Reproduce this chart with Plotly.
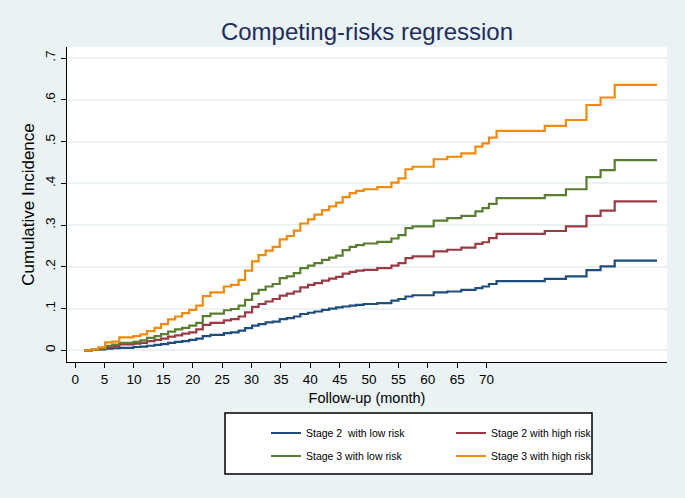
import plotly.graph_objects as go

# Step times (months) shared by the four predicted cumulative incidence curves
months = [1.5, 2.8, 3.9, 5.1, 6.3, 7.5, 9.9, 11.1, 12.2, 13.5, 14.6, 15.8, 17.0, 18.2,
          19.4, 20.6, 21.7, 23.0, 25.3, 26.5, 27.8, 28.9, 30.1, 31.2, 32.4, 33.6, 34.8,
          36.0, 37.2, 38.3, 39.6, 40.7, 42.0, 43.2, 44.4, 45.5, 46.7, 47.8, 49.1, 51.4,
          53.8, 55.0, 56.2, 57.4, 61.0, 63.3, 65.7, 68.1, 69.3, 70.4, 71.7, 79.9, 83.5,
          87.0, 89.4, 91.8, 99.0]

stage2_low = [0, 0.001, 0.002, 0.004, 0.005, 0.006, 0.008, 0.009, 0.011, 0.013, 0.015,
              0.018, 0.020, 0.022, 0.025, 0.028, 0.034, 0.037, 0.041, 0.043, 0.047, 0.053,
              0.059, 0.063, 0.067, 0.069, 0.075, 0.077, 0.081, 0.087, 0.090, 0.093, 0.097,
              0.100, 0.103, 0.105, 0.107, 0.109, 0.111, 0.113, 0.119, 0.123, 0.129, 0.132,
              0.139, 0.141, 0.145, 0.149, 0.153, 0.159, 0.166, 0.171, 0.177, 0.192, 0.201,
              0.215, 0.215]

stage2_high = [0, 0.001, 0.003, 0.007, 0.010, 0.014, 0.016, 0.018, 0.022, 0.025, 0.028,
               0.033, 0.036, 0.040, 0.043, 0.050, 0.061, 0.066, 0.072, 0.075, 0.081, 0.091,
               0.104, 0.111, 0.117, 0.123, 0.131, 0.136, 0.141, 0.151, 0.157, 0.161, 0.167,
               0.172, 0.176, 0.184, 0.188, 0.191, 0.193, 0.197, 0.203, 0.209, 0.221, 0.225,
               0.237, 0.241, 0.246, 0.255, 0.259, 0.269, 0.279, 0.286, 0.297, 0.322, 0.335,
               0.357, 0.357]

stage3_low = [0, 0.001, 0.004, 0.011, 0.014, 0.018, 0.020, 0.024, 0.030, 0.034, 0.039,
              0.045, 0.050, 0.054, 0.059, 0.066, 0.082, 0.088, 0.096, 0.099, 0.107, 0.121,
              0.136, 0.145, 0.153, 0.159, 0.173, 0.177, 0.185, 0.197, 0.203, 0.209, 0.217,
              0.222, 0.227, 0.240, 0.248, 0.252, 0.256, 0.260, 0.268, 0.276, 0.293, 0.297,
              0.311, 0.317, 0.322, 0.333, 0.341, 0.351, 0.365, 0.372, 0.386, 0.415, 0.432,
              0.456, 0.456]

stage3_high = [0, 0.002, 0.007, 0.019, 0.021, 0.031, 0.034, 0.038, 0.046, 0.054, 0.063,
               0.074, 0.081, 0.089, 0.097, 0.107, 0.130, 0.139, 0.153, 0.157, 0.169, 0.191,
               0.213, 0.228, 0.239, 0.248, 0.266, 0.274, 0.287, 0.304, 0.314, 0.325, 0.336,
               0.345, 0.354, 0.367, 0.377, 0.382, 0.386, 0.391, 0.402, 0.412, 0.434, 0.440,
               0.458, 0.464, 0.472, 0.488, 0.496, 0.510, 0.526, 0.538, 0.552, 0.588, 0.606,
               0.636, 0.636]

series_names = ["Stage 2\u00a0 with low risk", "Stage 2 with high risk",
                "Stage 3 with low risk", "Stage 3 with high risk"]
series_values = [stage2_low, stage2_high, stage3_low, stage3_high]
series_colors = ["#1f4e7c", "#9a3a44", "#5a7d32", "#f08a0c"]
series_legends = ["legend", "legend", "legend2", "legend2"]

x_ticks = list(range(0, 75, 5))
y_ticks = [0, 0.1, 0.2, 0.3, 0.4, 0.5, 0.6, 0.7]
y_tick_labels = ["0", ".1", ".2", ".3", ".4", ".5", ".6", ".7"]

FONT = "Arial, Liberation Sans, Helvetica, sans-serif"

fig = go.Figure()
for name, vals, color, leg in zip(series_names, series_values, series_colors, series_legends):
    fig.add_trace(go.Scatter(
        x=months, y=vals, mode="lines", name=name, legend=leg,
        line=dict(shape="hv", color=color, width=2.2),
    ))

W, H = 685, 498
L, R, T, B = 67, 18, 47, 136

legend_common = dict(
    orientation="h", xref="container", yref="container",
    xanchor="left", yanchor="middle",
    bgcolor="rgba(0,0,0,0)", borderwidth=0,
    font=dict(family=FONT, size=10.5, color="black"),
    entrywidth=140, entrywidthmode="pixels",
    itemwidth=30, tracegroupgap=0,
)

fig.update_layout(
    width=W, height=H,
    margin=dict(l=L, r=R, t=T, b=B, autoexpand=False),
    paper_bgcolor="#eaf2f3",
    plot_bgcolor="white",
    font=dict(family=FONT, color="black"),
    title=dict(text="Competing-risks regression", x=0.5, xref="paper",
               y=1 - 32 / H, yref="container", xanchor="center", yanchor="middle",
               font=dict(family=FONT, size=24, color="#1e2d5b")),
    showlegend=True,
    legend=dict(x=266 / W, y=1 - 433 / H, **legend_common),
    legend2=dict(x=266 / W, y=1 - 456 / H, **legend_common),
    xaxis=dict(
        range=[-1.4, 100.7], tickvals=x_ticks, showgrid=False, zeroline=False,
        showline=True, linecolor="black", linewidth=1.3, mirror=False,
        ticks="outside", ticklen=5, tickcolor="black", tickwidth=1.2,
        tickfont=dict(family=FONT, size=13.5, color="black"),
        title=dict(text="Follow-up (month)", font=dict(family=FONT, size=14.5, color="black"),
                   standoff=6),
        automargin=False,
    ),
    yaxis=dict(
        range=[-0.028, 0.727], tickvals=y_ticks, ticktext=y_tick_labels, tickangle=-90,
        showgrid=True, gridcolor="#eaf2f3", gridwidth=1.5, zeroline=False,
        showline=True, linecolor="black", linewidth=1.3, mirror=False,
        ticks="outside", ticklen=5, tickcolor="black", tickwidth=1.2,
        tickfont=dict(family=FONT, size=13.5, color="black"),
        title=dict(text="Cumulative Incidence", font=dict(family=FONT, size=17, color="black"),
                   standoff=4),
        automargin=False,
    ),
)

# Legend frame (white box with black border) drawn below the two legend rows
px0, px1, py0, py1 = 225, 592, 413, 474
fig.add_shape(type="rect", xref="paper", yref="paper",
              x0=(px0 - L) / (W - L - R), x1=(px1 - L) / (W - L - R),
              y0=((H - B) - py1) / (H - T - B), y1=((H - B) - py0) / (H - T - B),
              fillcolor="white", line=dict(color="black", width=1.5), layer="below")

fig.write_html("out.html", config={"displayModeBar": False},
               post_script="document.body.style.margin='0';document.body.style.padding='0';")
